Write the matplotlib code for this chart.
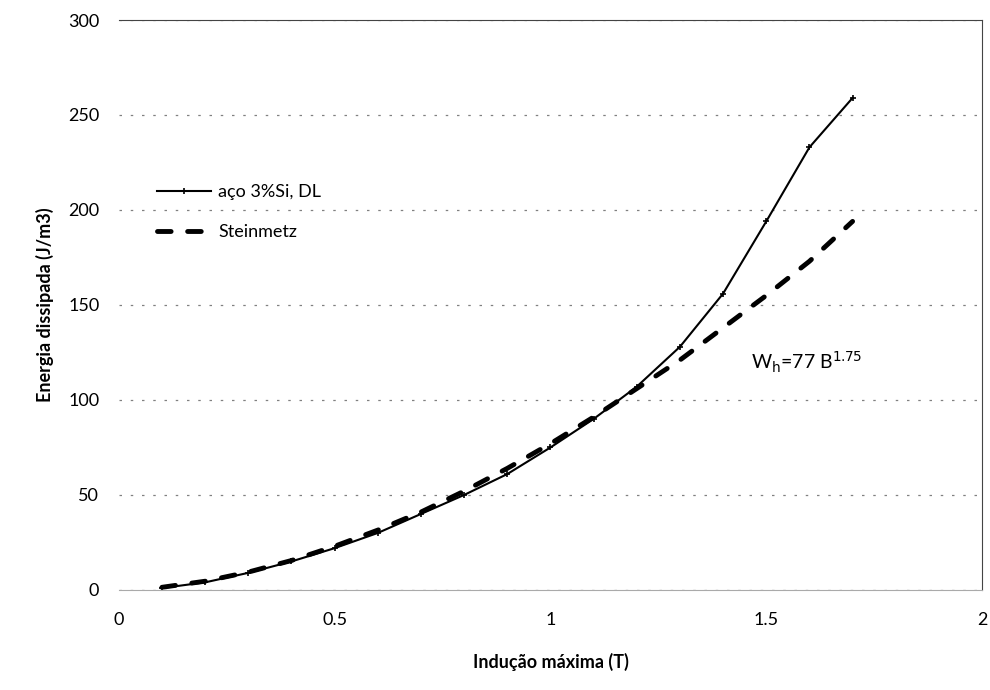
import matplotlib.pyplot as plt

plt.rcParams['font.family'] = ['Lato', 'DejaVu Sans']

# Indução máxima (T)
inducao = [0.1, 0.2, 0.3, 0.4, 0.5, 0.6, 0.7, 0.8, 0.9, 1.0,
           1.1, 1.2, 1.3, 1.4, 1.5, 1.6, 1.7]
# energia medida, aço 3%Si DL
energia_aco = [1, 4, 9, 15, 22, 30, 40, 50, 61, 75,
               90, 107, 128, 156, 194, 233, 259]
# Steinmetz, Wh = 77 B^1.75
energia_steinmetz = [1.4, 4.6, 9.4, 15.5, 23, 31.5, 41, 52, 64, 77,
                     91, 106, 121, 138, 155, 173, 194]

fig = plt.figure(figsize=(9.9, 6.9), dpi=100)
ax = fig.add_axes([0.120, 0.145, 0.872, 0.826])

ax.plot(inducao, energia_aco, color='black', lw=1.5, marker='+',
        markersize=5, markeredgewidth=1.2, label='aço 3%Si, DL')
ax.plot(inducao, energia_steinmetz, color='black', lw=3.5,
        dashes=(2.8, 3.4), dash_capstyle='round', label='Steinmetz')

ax.set_xlim(0, 2)
ax.set_ylim(0, 300)
ax.set_xticks([0, 0.5, 1, 1.5, 2])
ax.set_xticklabels(['0', '0.5', '1', '1.5', '2'])
ax.set_yticks(range(0, 301, 50))
ax.tick_params(length=0, labelsize=13, pad=14)
ax.tick_params(axis='x', pad=16)

ax.yaxis.grid(True, color='gray', linestyle=(0, (2, 7)), lw=0.9)
ax.set_axisbelow(True)
ax.spines['left'].set_visible(False)
ax.spines['top'].set_color('#444444')
ax.spines['right'].set_color('#444444')
ax.spines['bottom'].set_color('#aaaaaa')

ax.set_xlabel('Indução máxima (T)', fontsize=13, fontweight='bold', labelpad=18)
ax.set_ylabel('Energia dissipada (J/m3)', fontsize=13, fontweight='bold', labelpad=10)

ax.text(1.465, 116, r'W$_\mathrm{h}$=77 B$^{1.75}$', fontsize=14, va='baseline')

ax.legend(loc='upper left', bbox_to_anchor=(0.025, 0.74), frameon=False,
          fontsize=13, handlelength=3.0, handletextpad=0.4, labelspacing=1.3)

plt.savefig('out.png', dpi=100)
